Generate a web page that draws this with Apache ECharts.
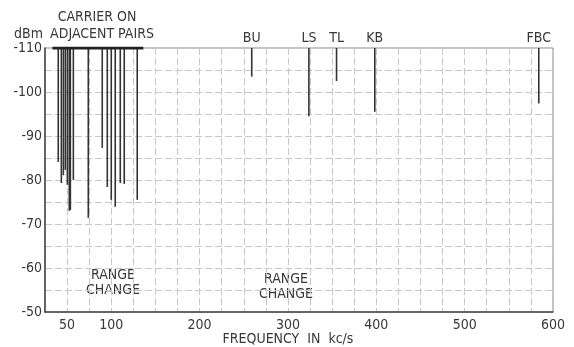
<!DOCTYPE html>
<html>
<head>
<meta charset="utf-8">
<script src="https://cdn.jsdelivr.net/npm/echarts@6/dist/echarts.min.js"></script>
<style>
  html, body { margin: 0; padding: 0; background: #fff; }
  #main { width: 574px; height: 347px; }
</style>
</head>
<body>
<div id="main"></div>
<script>
// carrier lines on adjacent pairs (kc/s, dBm)
var carrierFreq  = [40, 43.5, 45.8, 48, 50.3, 52.5, 53.7, 57.1, 74, 89.8, 95.5, 100, 104.5, 110.2, 114.7, 129.4];
var carrierLevel = [-84.1, -79.3, -81.1, -82.3, -78.9, -73, -73.2, -80, -71.4, -87.3, -78.4, -75.5, -73.9, -79.3, -79.1, -75.5];
var carrierBand  = [33.4, 136.3];

// named interferers
var signalNames = ['BU', 'LS', 'TL', 'KB', 'FBC'];
var signalFreq  = [259, 323.7, 355, 398.3, 583.9];
var signalLevel = [-103.5, -94.5, -102.5, -95.5, -97.4];

var xLabels = [50, 100, 200, 300, 400, 500, 600];

var FONT = "'Liberation Sans Narrow', 'DejaVu Sans Condensed', sans-serif";
var INK = '#383838';

$ready();

function $ready() {
    var myChart = echarts.init(document.getElementById('main'));

    var carrierData = carrierFreq.map(function (f, i) { return [f, carrierLevel[i]]; });
    var signalData = signalFreq.map(function (f, i) { return [f, signalLevel[i], signalNames[i]]; });

    function drawLine(params, api) {
        var top = api.coord([api.value(0), -110]);
        var end = api.coord([api.value(0), api.value(1)]);
        var children = [{
            type: 'line',
            shape: { x1: top[0], y1: top[1], x2: end[0], y2: end[1] },
            style: { stroke: '#333', lineWidth: 1.6 }
        }];
        var name = api.value(2);
        if (name && typeof name === 'string') {
            children.push({
                type: 'text',
                x: top[0], y: top[1] - 10,
                style: {
                    text: name, fill: INK, font: '14px ' + FONT,
                    align: 'center', verticalAlign: 'middle'
                }
            });
        }
        return { type: 'group', children: children };
    }

    var option = {
        animation: false,
        grid: {
            left: 45, right: 21, top: 48, bottom: 35,
            show: true, borderColor: '#888', borderWidth: 1
        },
        xAxis: {
            type: 'value',
            min: 25, max: 600, interval: 25,
            axisLine: { onZero: false, lineStyle: { color: '#444', width: 1.5 } },
            axisTick: { show: false },
            axisLabel: {
                color: INK, fontFamily: FONT, fontSize: 14, margin: 6,
                formatter: function (v) { return xLabels.indexOf(v) >= 0 ? String(v) : ''; }
            },
            splitLine: { show: true, lineStyle: { color: '#c8c8c8', type: [7, 3], width: 1 } }
        },
        yAxis: {
            type: 'value',
            inverse: true,
            min: -110, max: -50, interval: 5,
            name: 'dBm',
            nameLocation: 'start',
            nameGap: 4,
            nameTextStyle: { color: INK, fontFamily: FONT, fontSize: 14, align: 'right', padding: [0, 2, 0, 0] },
            axisLine: { show: true, onZero: false, lineStyle: { color: '#444', width: 1.5 } },
            axisTick: { show: false },
            axisLabel: {
                color: INK, fontFamily: FONT, fontSize: 14, margin: 3,
                formatter: function (v) { return v % 10 === 0 ? String(v) : ''; }
            },
            splitLine: { show: true, lineStyle: { color: '#c8c8c8', type: [7, 3], width: 1 } }
        },
        graphic: [
            { type: 'text', x: 97, y: 17, style: { text: 'CARRIER ON', fill: INK, font: '14px ' + FONT, align: 'center', verticalAlign: 'middle' } },
            { type: 'text', x: 102, y: 34, style: { text: 'ADJACENT PAIRS', fill: INK, font: '14px ' + FONT, align: 'center', verticalAlign: 'middle' } },
            { type: 'text', x: 113, y: 283, style: { text: 'RANGE\nCHANGE', fill: INK, font: '14px ' + FONT, align: 'center', verticalAlign: 'middle', lineHeight: 15 } },
            { type: 'text', x: 286, y: 287, style: { text: 'RANGE\nCHANGE', fill: INK, font: '14px ' + FONT, align: 'center', verticalAlign: 'middle', lineHeight: 15 } },
            { type: 'text', x: 288, y: 339, style: { text: 'FREQUENCY  IN  kc/s', fill: INK, font: '14px ' + FONT, align: 'center', verticalAlign: 'middle' } }
        ],
        series: [{
            name: 'band',
            type: 'line',
            data: [[carrierBand[0], -110], [carrierBand[1], -110]],
            symbol: 'none',
            lineStyle: { color: '#222', width: 3 },
            z: 5
        }, {
            name: 'carriers',
            type: 'custom',
            data: carrierData,
            renderItem: drawLine,
            z: 4
        }, {
            name: 'signals',
            type: 'custom',
            data: signalData,
            encode: { x: 0, y: 1 },
            renderItem: drawLine,
            clip: false,
            z: 4
        }]
    };
    myChart.setOption(option);
}
</script>
</body>
</html>
